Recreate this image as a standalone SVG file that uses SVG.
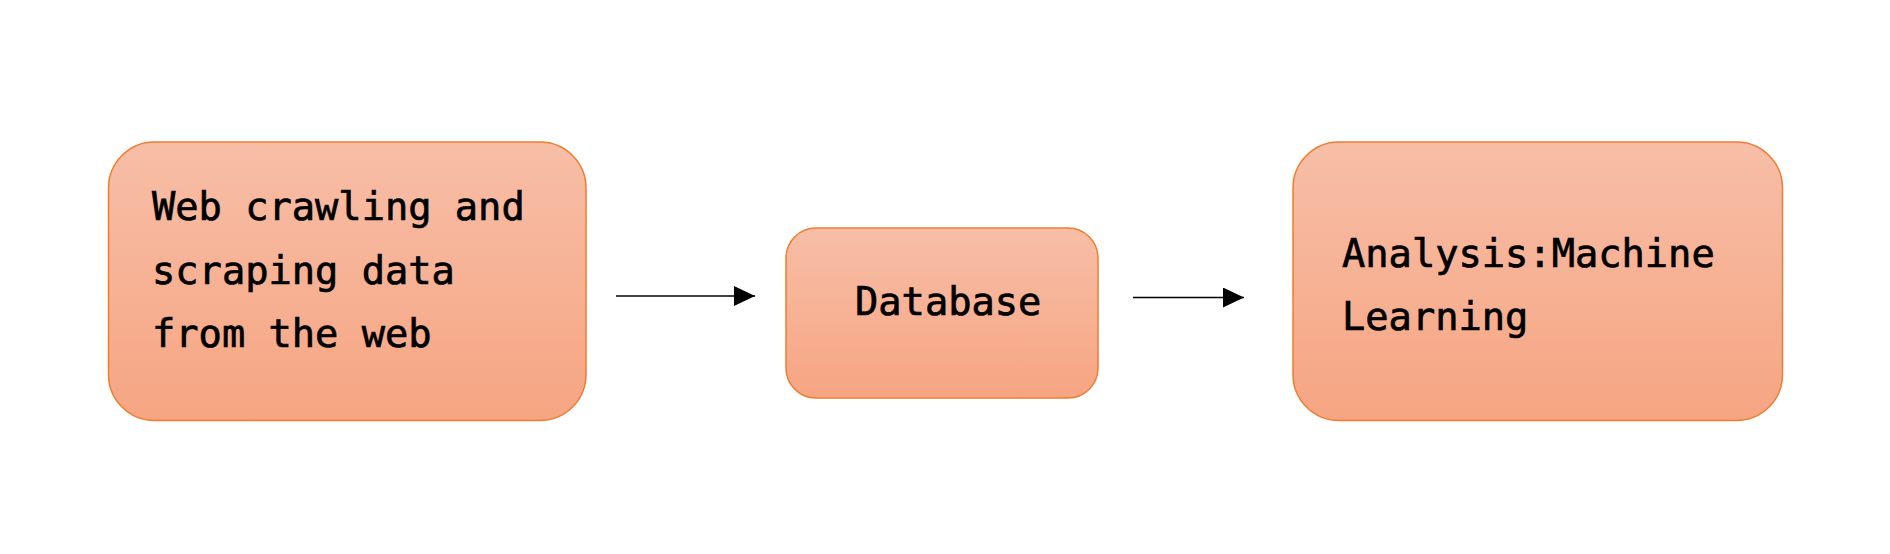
<svg xmlns="http://www.w3.org/2000/svg" width="1890" height="554" viewBox="0 0 1890 554">
  <style>
    .box { stroke: #ED7D31; stroke-width: 1.5; fill: url(#g); }
    .lbl { font-family: "DejaVu Sans Mono", "Liberation Mono", monospace; font-size: 38.7px; fill: #000000; stroke: #000000; stroke-width: 0.7px; }
    .conn { stroke: #000000; stroke-width: 1.4; fill: none; marker-end: url(#arrow); }
  </style>
  <defs>
    <linearGradient id="g" x1="0" y1="0" x2="0" y2="1">
      <stop offset="0" stop-color="#F7BEA7"/>
      <stop offset="1" stop-color="#F6A582"/>
    </linearGradient>
    <marker id="arrow" markerUnits="userSpaceOnUse" markerWidth="22" markerHeight="22" refX="21" refY="10" orient="auto">
      <path d="M0,0 L21,10 L0,20 Z" fill="#000000"/>
    </marker>
  </defs>
  <rect width="1890" height="554" fill="#FFFFFF"/>
  <g id="connectors">
    <line class="conn" x1="616" y1="296" x2="755" y2="296"/>
    <line class="conn" x1="1133" y1="297.5" x2="1244" y2="297.5"/>
  </g>
  <g id="node-crawl">
    <rect class="box" x="108.5" y="142" width="477.5" height="278.5" rx="46" ry="46"/>
    <text class="lbl" x="152" y="220">Web crawling and</text>
    <text class="lbl" x="152" y="284">scraping data</text>
    <text class="lbl" x="152" y="347">from the web</text>
  </g>
  <g id="node-database">
    <rect class="box" x="786" y="228" width="312" height="170" rx="30" ry="30"/>
    <text class="lbl" x="855" y="315">Database</text>
  </g>
  <g id="node-analysis">
    <rect class="box" x="1293" y="142" width="489.5" height="278.5" rx="46" ry="46"/>
    <text class="lbl" x="1342" y="267">Analysis:Machine</text>
    <text class="lbl" x="1342" y="330">Learning</text>
  </g>
</svg>
